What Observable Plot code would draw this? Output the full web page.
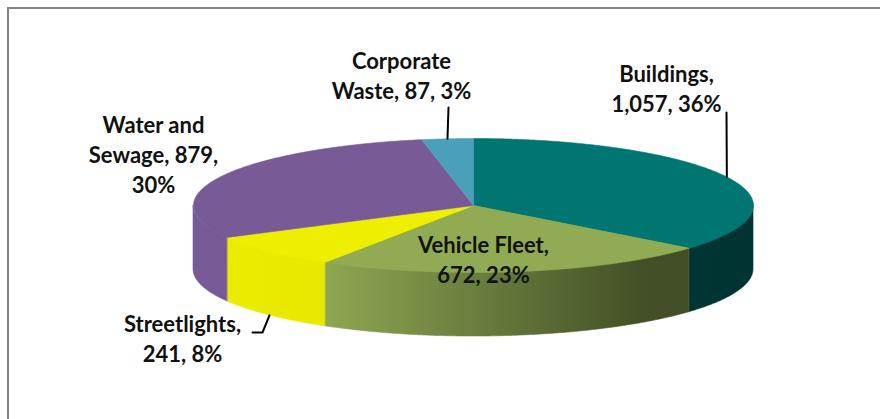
<!DOCTYPE html>
<html><head><meta charset="utf-8">
<script src="https://cdn.jsdelivr.net/npm/d3@7"></script>
<script src="https://cdn.jsdelivr.net/npm/@observablehq/plot@0.6"></script>
<style>
html,body{margin:0;padding:0;background:#fff;width:880px;height:419px;overflow:hidden;}
#frame{position:absolute;left:7px;top:7px;width:900px;height:500px;border-left:2px solid #858585;border-top:2px solid #858585;box-sizing:border-box;}
#chart{position:absolute;left:0;top:0;}
</style></head><body>
<div id="frame"></div><div id="chart"></div>
<script>
// ---- data ----
const categories = ["Buildings", "Vehicle Fleet", "Streetlights", "Water and Sewage", "Corporate Waste"];
const values = [1057, 672, 241, 879, 87];
const percents = [36, 23, 8, 30, 3];
const labelTexts = ["Buildings,\n1,057, 36%", "Vehicle Fleet,\n672, 23%", "Streetlights,\n241, 8%", "Water and\nSewage, 879,\n30%", "Corporate\nWaste, 87, 3%"];

// ---- style / layout ----
const colors = ["#007672", "#90ab53", "#eeee00", "#775a96", "#4aa0b8"];
const labelAnchor = [[666, 60], [483, 231], [182, 310], [153, 111], [401, 47]];
const leaderStart = [[[726, 112]], null, [[252, 332], [262, 332]], null, [[448, 107]]];
const cx = 473, cy = 205, rx = 280, ry = 67, depth = 64;
const shadeX = [193, 330, 450, 560, 640, 753];
const shadeK = [1, 0.97, 0.78, 0.6, 0.47, 0.43];

const total = d3.sum(values);
let acc = 0;
const slices = values.map((v, i) => {
  const a0 = acc / total * 2 * Math.PI; acc += v;
  const a1 = acc / total * 2 * Math.PI;
  return {i, a0, a1, mid: (a0 + a1) / 2};
});
const px = a => cx + rx * Math.sin(a);
const py = a => cy - ry * Math.cos(a);
const arcPts = (lo, hi) => {
  const n = Math.max(2, Math.ceil((hi - lo) / 0.005));
  return d3.range(n + 1).map(k => lo + (hi - lo) * k / n);
};

const marks = [];
// side faces (front half only)
slices.forEach(s => {
  const lo = Math.max(s.a0, Math.PI / 2), hi = Math.min(s.a1, 3 * Math.PI / 2);
  if (hi <= lo) return;
  const pts = arcPts(lo, hi).map(a => ({x: px(a), y1: py(a), y2: py(a) + depth}));
  marks.push(Plot.areaY(pts, {x: "x", y1: "y1", y2: "y2", fill: `url(#side${s.i})`, stroke: `url(#side${s.i})`, strokeWidth: 0.6}));
});
// top faces
slices.forEach(s => {
  const pts = [{x: cx, y: cy}, ...arcPts(s.a0, s.a1).map(a => ({x: px(a), y: py(a)})), {x: cx, y: cy}];
  marks.push(Plot.line(pts, {x: "x", y: "y", fill: colors[s.i], stroke: colors[s.i], strokeWidth: 0.6}));
});
// leader lines
slices.forEach(s => {
  if (!leaderStart[s.i]) return;
  const front = Math.cos(s.mid) < 0;
  const end = {x: px(s.mid), y: py(s.mid) + (front ? depth : 0)};
  const pts = [...leaderStart[s.i].map(([x, y]) => ({x, y})), end];
  marks.push(Plot.line(pts, {x: "x", y: "y", stroke: "#000", strokeWidth: 2}));
});
// labels
marks.push(Plot.text(slices, {
  x: d => labelAnchor[d.i][0], y: d => labelAnchor[d.i][1],
  text: d => labelTexts[d.i],
  textAnchor: "middle", lineAnchor: "top", lineHeight: 1.36,
  fontFamily: "Lato", fontWeight: 700, fontSize: 22, fill: "#111"
}));

const svg = Plot.plot({
  width: 880, height: 419, margin: 0,
  x: {domain: [0, 880], range: [0, 880], axis: null},
  y: {domain: [0, 419], range: [0, 419], axis: null},
  style: {background: "transparent", overflow: "visible"},
  marks
});
const defs = d3.select(svg).insert("defs", ":first-child");
slices.forEach(s => {
  const g = defs.append("linearGradient").attr("id", `side${s.i}`)
    .attr("gradientUnits", "userSpaceOnUse")
    .attr("x1", cx - rx).attr("x2", cx + rx).attr("y1", 0).attr("y2", 0);
  const base = d3.rgb(colors[s.i]);
  shadeX.forEach((x, k) => {
    const f = shadeK[k];
    g.append("stop").attr("offset", (x - (cx - rx)) / (2 * rx))
      .attr("stop-color", d3.rgb(base.r * f, base.g * f, base.b * f).formatHex());
  });
});
document.getElementById("chart").appendChild(svg);
</script>
</body></html>
